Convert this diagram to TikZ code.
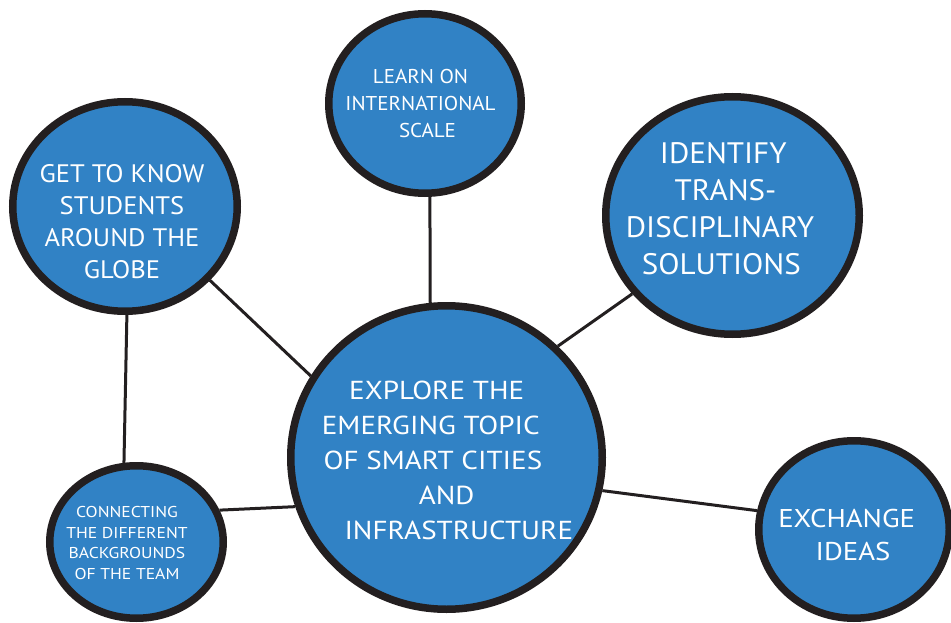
\documentclass[tikz,border=0pt]{standalone}
\usepackage{fontspec}
\setmainfont{PT Sans}
\newfontfamily\widesans[FakeStretch=1.12]{PT Sans}
\newfontfamily\midsans[FakeStretch=1.05]{PT Sans}
\usetikzlibrary{shapes.geometric}
\definecolor{bubblefill}{RGB}{49,130,197}
\definecolor{inkline}{RGB}{35,31,32}
% a centred line of text moved sideways by half of #1
\newcommand\shiftline[2]{\makebox[0pt]{\hspace*{#1}#2}}

\begin{document}
\begin{tikzpicture}[x=1pt,y=-1pt,
  bubble/.style={ellipse, draw=inkline, fill=bubblefill, line width=7.5pt, inner sep=0pt},
  caption/.style={text=white, align=center, inner sep=0pt},
  link/.style={draw=inkline, line width=3pt}]
\useasboundingbox (0,0) rectangle (951,623);
\clip (0,0) rectangle (951,623);

% bubbles
\node[bubble, minimum width=311.5pt, minimum height=303.5pt] (hub)   at (446.5,457.5) {};
\node[bubble, minimum width=192.5pt, minimum height=179.5pt] (learn) at (425,103.5) {};
\node[bubble, minimum width=224.5pt, minimum height=209.5pt] (know)  at (125,206.5) {};
\node[bubble, minimum width=253.5pt, minimum height=237.5pt] (ident) at (732.5,215.5) {};
\node[bubble, minimum width=173.5pt, minimum height=152.5pt] (conn)  at (136.5,542) {};
\node[bubble, minimum width=190.5pt, minimum height=177.5pt] (exch)  at (854,529.5) {};

% connectors
\draw[link] (learn.273) -- (hub.96);
\draw[link] (know.319)  -- (hub.149.5);
\draw[link] (know.271)  -- (conn.99);
\draw[link] (conn.21.4) -- (hub.198.7);
\draw[link] (ident.218) -- (hub.45.5);
\draw[link] (exch.169.8) -- (hub.348.1);

% captions
\node[caption, font=\widesans\fontsize{26}{35}\selectfont] (hub-text) at (433,460.8)
  {\shiftline{7.4pt}{EXPLORE THE}\\
   \shiftline{-4.4pt}{EMERGING TOPIC}\\
   \shiftline{0pt}{OF SMART CITIES}\\
   \shiftline{27.4pt}{AND}\\
   \shiftline{51.6pt}{INFRASTRUCTURE}};
\node[caption, font=\midsans\fontsize{20}{26.6}\selectfont] (learn-text) at (420.5,103.5)
  {\shiftline{0pt}{LEARN ON}\\
   \shiftline{0pt}{INTERNATIONAL}\\
   \shiftline{14pt}{SCALE}};
\node[caption, font=\midsans\fontsize{25.3}{32}\selectfont] (know-text) at (122,222)
  {GET TO KNOW\\ STUDENTS\\ AROUND THE\\ GLOBE};
\node[caption, font=\midsans\fontsize{29.6}{37.2}\selectfont] (ident-text) at (721,208.8)
  {\shiftline{4.6pt}{IDENTIFY}\\
   \shiftline{9pt}{TRANS-}\\
   \shiftline{-2pt}{DISCIPLINARY}\\
   \shiftline{0.6pt}{SOLUTIONS}};
\node[caption, font=\widesans\fontsize{25.7}{32.7}\selectfont] (exch-text) at (850,534.7)
  {\shiftline{-6.6pt}{EXCHANGE}\\
   \shiftline{6pt}{IDEAS}};
\node[caption, font=\widesans\fontsize{15.7}{20.6}\selectfont] (conn-text) at (127,543)
  {CONNECTING\\ THE DIFFERENT\\ BACKGROUNDS\\ OF THE TEAM};
\end{tikzpicture}
\end{document}
